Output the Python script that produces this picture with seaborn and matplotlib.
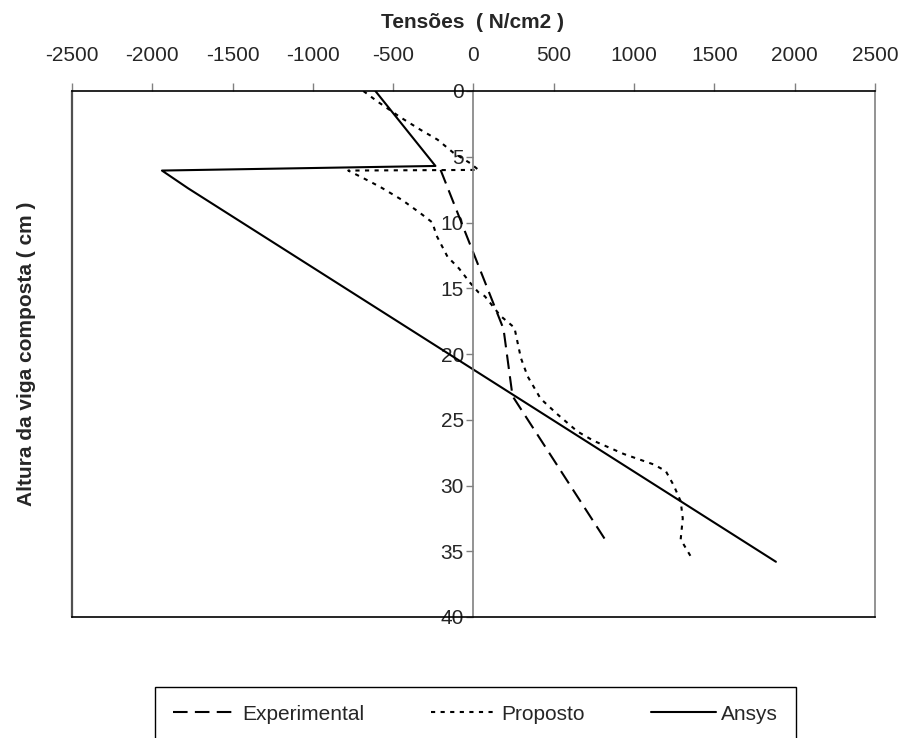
import pandas as pd
import matplotlib
matplotlib.use('Agg')
import matplotlib.pyplot as plt
import seaborn as sns

# Tensões (N/cm2) x altura da viga (cm)
exp_x = [-205, 187, 243, 835]
exp_y = [6.0, 18.1, 23.2, 34.4]

prop_x = [-686, -598, -455, -330, -224, -125, -19, 31, -780, -690, -580, -443, -330, -256,
          -230, -162, -90, -20, 30, 70, 168, 255, 274, 295, 337, 418, 524, 648, 748,
          935, 1122, 1197, 1247, 1290, 1303, 1290, 1353]
prop_y = [0.0, 0.8, 2.0, 2.95, 3.7, 4.7, 5.5, 6.0, 6.05, 6.6, 7.3, 8.3, 9.3, 10.0,
          11.0, 12.6, 13.5, 14.6, 15.3, 15.6, 17.1, 18.0, 19.1, 20.3, 21.7, 23.4, 24.6, 25.9, 26.6,
          27.6, 28.4, 28.9, 30.0, 31.2, 32.5, 34.1, 35.4]

ans_x = [-611, -237, -1940, -1777, 1883]
ans_y = [0.0, 5.7, 6.05, 7.4, 35.8]

series = ['Experimental', 'Proposto', 'Ansys']
x_ticks = [-2500, -2000, -1500, -1000, -500, 0, 500, 1000, 1500, 2000, 2500]
y_ticks = [0, 5, 10, 15, 20, 25, 30, 35, 40]

df = pd.concat([
    pd.DataFrame({'tensao': exp_x, 'altura': exp_y, 'serie': 'Experimental'}),
    pd.DataFrame({'tensao': prop_x, 'altura': prop_y, 'serie': 'Proposto'}),
    pd.DataFrame({'tensao': ans_x, 'altura': ans_y, 'serie': 'Ansys'}),
], ignore_index=True)

sns.set_theme(style='white')
plt.rcParams['font.family'] = ['Liberation Sans', 'DejaVu Sans']

fig = plt.figure(figsize=(9.03, 7.38), dpi=100)
ax = fig.add_axes([72 / 903, 1 - 617 / 738, (875 - 72) / 903, (617 - 91) / 738])

sns.lineplot(data=df, x='tensao', y='altura', hue='serie', style='serie',
             hue_order=series, style_order=series,
             palette=['black'] * 3,
             dashes={'Experimental': (7, 3.5), 'Proposto': (2, 2.6), 'Ansys': ''},
             sort=False, estimator=None, legend=False, lw=1.5, ax=ax)

ax.set_xlim(-2500, 2500)
ax.set_ylim(40, 0)
ax.set_xticks(x_ticks)
ax.set_xticklabels([str(t) for t in x_ticks])
ax.set_yticks(y_ticks)
ax.set_yticklabels([str(t) for t in y_ticks])
ax.xaxis.tick_top()
ax.set_xlabel('')
ax.set_ylabel('')

# eixo vertical em x = 0 e moldura
ax.spines['left'].set_position(('data', 0))
ax.spines['left'].set_color('#808080')
ax.spines['left'].set_linewidth(1.2)
ax.spines['top'].set_color('black')
ax.spines['top'].set_linewidth(1.2)
ax.spines['bottom'].set_color('black')
ax.spines['bottom'].set_linewidth(1.2)
ax.spines['right'].set_color('#808080')
ax.spines['right'].set_linewidth(1.2)
ax.axvline(-2500, color='#505050', lw=1.6, clip_on=False)

ax.tick_params(axis='x', direction='out', length=6, width=1, color='#808080',
               labelsize=15, pad=13, top=True, bottom=False)
ax.tick_params(axis='y', direction='out', length=5, width=1, color='#808080',
               labelsize=15, pad=2, left=True)

fig.text(473 / 903, 1 - 23 / 738, 'Tensões  ( N/cm2 )', ha='center', va='center',
         fontsize=15, fontweight='bold')
fig.text(27 / 903, 1 - 354 / 738, 'Altura da viga composta ( cm )', ha='center', va='center',
         rotation=90, fontsize=15, fontweight='bold')

# legenda cortada na borda inferior, como no original
leg = fig.legend(ax.lines[:3], series, loc='upper left', bbox_to_anchor=(155 / 903, 1 - 687 / 738),
                 ncol=3, fontsize=15, handlelength=3.1, handletextpad=0.25, columnspacing=3.2,
                 borderpad=0.85, borderaxespad=0, fancybox=False, edgecolor='black', framealpha=1)
leg.get_frame().set_linewidth(1.0)

fig.savefig('out.png', dpi=100)
